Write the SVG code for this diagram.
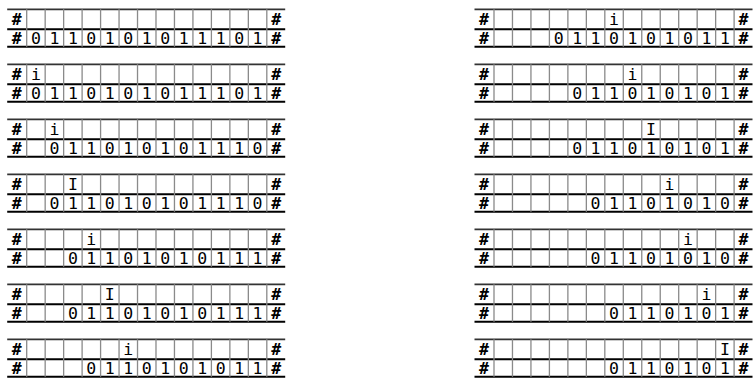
<svg xmlns="http://www.w3.org/2000/svg" xmlns:xlink="http://www.w3.org/1999/xlink" width="755" height="381" viewBox="0 0 755 381">
<style>
.h{stroke:#000;stroke-width:2;fill:none}
.ht{stroke:#333;stroke-width:1.8;fill:none}
.v{stroke:#8a8a8a;stroke-width:1.3;fill:none}
.t{font-family:"DejaVu Sans Mono","Liberation Mono",monospace;font-size:16.5px;fill:#000;text-anchor:middle}
.b{font-weight:bold}
</style>
<defs>
<g id="grid">
<line class="ht" x1="-19.5" y1="0" x2="258.5" y2="0"/>
<line class="h" x1="-19.5" y1="20" x2="258.5" y2="20"/>
<line class="h" x1="-19.5" y1="37.5" x2="258.5" y2="37.5"/>
<path class="v" d="M0,0V37.5M18.47,0V37.5M36.94,0V37.5M55.41,0V37.5M73.88,0V37.5M92.35,0V37.5M110.82,0V37.5M129.29,0V37.5M147.76,0V37.5M166.23,0V37.5M184.7,0V37.5M203.17,0V37.5M221.64,0V37.5M240.11,0V37.5"/>
<g id="ends">
<text class="t b" x="-10 249.5" y="15.7">##</text>
<text class="t b" x="-10 249.5" y="35">##</text>
</g>
</g>
</defs>
<rect width="755" height="381" fill="#fff"/>
<g id="connectors"/>
<!-- left column -->
<g id="tapeL1" transform="translate(26.7,9.3)">
<use xlink:href="#grid" href="#grid"/>
<text class="t" x="9.24 27.71 46.18 64.65 83.12 101.59 120.06 138.53 157 175.47 193.94 212.41 230.88" y="35">0110101011101</text>
</g>
<g id="tapeL2" transform="translate(26.7,64.3)">
<use xlink:href="#grid" href="#grid"/>
<text class="t" x="9.24" y="15.7">i</text>
<text class="t" x="9.24 27.71 46.18 64.65 83.12 101.59 120.06 138.53 157 175.47 193.94 212.41 230.88" y="35">0110101011101</text>
</g>
<g id="tapeL3" transform="translate(26.7,119.3)">
<use xlink:href="#grid" href="#grid"/>
<text class="t" x="27.71" y="15.7">i</text>
<text class="t" x="27.71 46.18 64.65 83.12 101.59 120.06 138.53 157 175.47 193.94 212.41 230.88" y="35">011010101110</text>
</g>
<g id="tapeL4" transform="translate(26.7,174.3)">
<use xlink:href="#grid" href="#grid"/>
<text class="t" x="46.18" y="15.7">I</text>
<text class="t" x="27.71 46.18 64.65 83.12 101.59 120.06 138.53 157 175.47 193.94 212.41 230.88" y="35">011010101110</text>
</g>
<g id="tapeL5" transform="translate(26.7,229.3)">
<use xlink:href="#grid" href="#grid"/>
<text class="t" x="64.65" y="15.7">i</text>
<text class="t" x="46.18 64.65 83.12 101.59 120.06 138.53 157 175.47 193.94 212.41 230.88" y="35">01101010111</text>
</g>
<g id="tapeL6" transform="translate(26.7,284.3)">
<use xlink:href="#grid" href="#grid"/>
<text class="t" x="83.12" y="15.7">I</text>
<text class="t" x="46.18 64.65 83.12 101.59 120.06 138.53 157 175.47 193.94 212.41 230.88" y="35">01101010111</text>
</g>
<g id="tapeL7" transform="translate(26.7,339.3)">
<use xlink:href="#grid" href="#grid"/>
<text class="t" x="101.59" y="15.7">i</text>
<text class="t" x="64.65 83.12 101.59 120.06 138.53 157 175.47 193.94 212.41 230.88" y="35">0110101011</text>
</g>
<!-- right column -->
<g id="tapeR1" transform="translate(494,9.3)">
<use xlink:href="#grid" href="#grid"/>
<text class="t" x="120.06" y="15.7">i</text>
<text class="t" x="64.65 83.12 101.59 120.06 138.53 157 175.47 193.94 212.41 230.88" y="35">0110101011</text>
</g>
<g id="tapeR2" transform="translate(494,64.3)">
<use xlink:href="#grid" href="#grid"/>
<text class="t" x="138.53" y="15.7">i</text>
<text class="t" x="83.12 101.59 120.06 138.53 157 175.47 193.94 212.41 230.88" y="35">011010101</text>
</g>
<g id="tapeR3" transform="translate(494,119.3)">
<use xlink:href="#grid" href="#grid"/>
<text class="t" x="157" y="15.7">I</text>
<text class="t" x="83.12 101.59 120.06 138.53 157 175.47 193.94 212.41 230.88" y="35">011010101</text>
</g>
<g id="tapeR4" transform="translate(494,174.3)">
<use xlink:href="#grid" href="#grid"/>
<text class="t" x="175.47" y="15.7">i</text>
<text class="t" x="101.59 120.06 138.53 157 175.47 193.94 212.41 230.88" y="35">01101010</text>
</g>
<g id="tapeR5" transform="translate(494,229.3)">
<use xlink:href="#grid" href="#grid"/>
<text class="t" x="193.94" y="15.7">i</text>
<text class="t" x="101.59 120.06 138.53 157 175.47 193.94 212.41 230.88" y="35">01101010</text>
</g>
<g id="tapeR6" transform="translate(494,284.3)">
<use xlink:href="#grid" href="#grid"/>
<text class="t" x="212.41" y="15.7">i</text>
<text class="t" x="120.06 138.53 157 175.47 193.94 212.41 230.88" y="35">0110101</text>
</g>
<g id="tapeR7" transform="translate(494,339.3)">
<use xlink:href="#grid" href="#grid"/>
<text class="t" x="230.88" y="15.7">I</text>
<text class="t" x="120.06 138.53 157 175.47 193.94 212.41 230.88" y="35">0110101</text>
</g>
</svg>
